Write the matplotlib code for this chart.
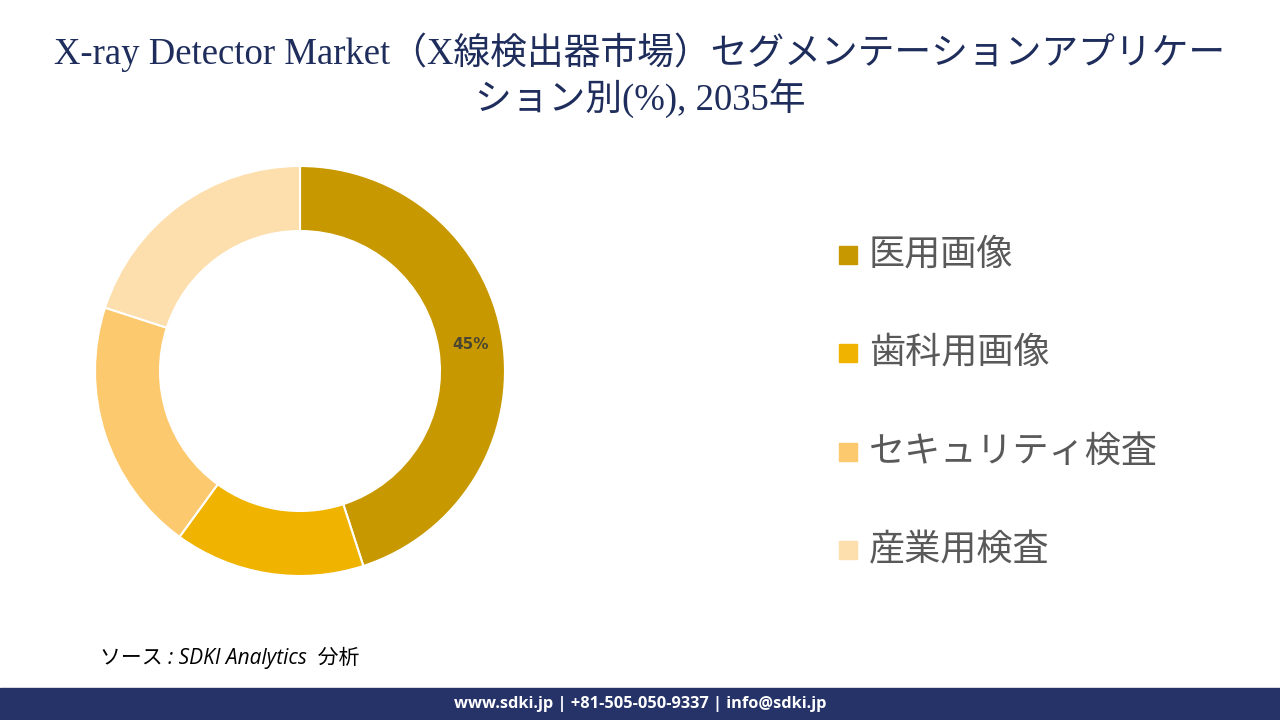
import matplotlib.pyplot as plt
from matplotlib.patches import Rectangle

# Data
segments = ["医用画像", "歯科用画像", "セキュリティ検査", "産業用検査"]
shares = [45, 15, 20, 20]
colors = ["#C89800", "#F0B400", "#FDC96E", "#FDDEAD"]

title = "X-ray Detector Market（X線検出器市場）セグメンテーションアプリケー\nション別(%), 2035年"
source = "ソース : SDKI Analytics  分析"
footer = "www.sdki.jp | +81-505-050-9337 | info@sdki.jp"

plt.rcParams['font.family'] = ['Noto Sans CJK JP', 'DejaVu Sans']

W, H = 1280, 720
fig = plt.figure(figsize=(12.8, 7.2), dpi=100)
fig.patch.set_facecolor("white")

# Donut
cx, cy, r = 300, 371, 205
ax = fig.add_axes([(cx - r) / W, (H - cy - r) / H, 2 * r / W, 2 * r / H])
wedges, texts, autotexts = ax.pie(
    shares, colors=colors, startangle=90, counterclock=False, radius=1,
    wedgeprops=dict(width=65 / 205, edgecolor="white", linewidth=1.5),
    autopct=lambda p: f"{p:.0f}%" if p > 30 else "", pctdistance=0.84,
    textprops=dict(fontsize=11, fontweight="bold", color="#4a4632", family="DejaVu Sans"))
ax.set_xlim(-1, 1)
ax.set_ylim(-1, 1)
ax.set_aspect("equal")
ax.axis("off")

# Title
fig.text(0.5, (H - 75) / H, title, ha="center", va="center", fontsize=26.5,
         color="#1F2D5C", linespacing=1.22,
         family=["Liberation Serif", "Noto Sans CJK JP"])

# Legend
ys = [255, 353, 452, 550]
for lab, col, y in zip(segments, colors, ys):
    fig.patches.append(Rectangle((839 / W, (H - y - 9) / H), 18 / W, 18 / H,
                                 transform=fig.transFigure, color=col))
    fig.text(869 / W, (H - y) / H, lab, ha="left", va="center",
             fontsize=26, color="#595959")

# Source
fig.text(100 / W, (H - 658) / H, source, ha="left", va="center",
         fontsize=15, style="italic", color="black",
         family=["Open Sans", "Noto Sans CJK JP"])

# Footer bar
fig.patches.append(Rectangle((0, 0), 1, 32 / H, transform=fig.transFigure,
                             color="#253369"))
fig.text(0.5, 16 / H, footer, ha="center", va="center", fontsize=11.8,
         fontweight="bold", color="white", family=["Open Sans", "DejaVu Sans"])

fig.savefig("out.png", dpi=100)
